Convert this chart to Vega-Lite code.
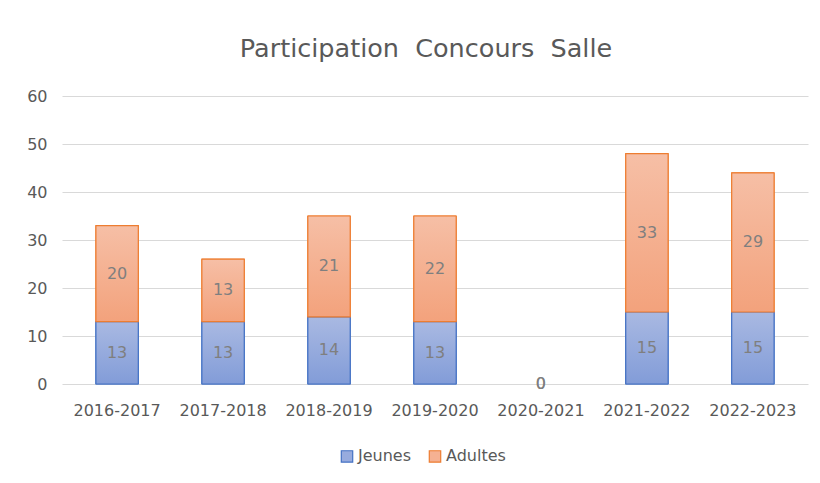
{
  "$schema": "https://vega.github.io/schema/vega-lite/v6.json",
  "autosize": {"type": "none"},
  "width": 746,
  "height": 288,
  "padding": {"left": 62, "top": 96, "right": 12, "bottom": 99},
  "background": "white",
  "title": {
    "text": "Participation\u00a0 Concours\u00a0 Salle",
    "fontSize": 25.5,
    "font": "DejaVu Sans",
    "fontWeight": "normal",
    "color": "#595959",
    "anchor": "middle",
    "dx": -9,
    "offset": 26
  },
  "data": {
    "values": [
      {"year": "2016-2017", "group": "Jeunes", "value": 13},
      {"year": "2016-2017", "group": "Adultes", "value": 20},
      {"year": "2017-2018", "group": "Jeunes", "value": 13},
      {"year": "2017-2018", "group": "Adultes", "value": 13},
      {"year": "2018-2019", "group": "Jeunes", "value": 14},
      {"year": "2018-2019", "group": "Adultes", "value": 21},
      {"year": "2019-2020", "group": "Jeunes", "value": 13},
      {"year": "2019-2020", "group": "Adultes", "value": 22},
      {"year": "2020-2021", "group": "Jeunes", "value": 0},
      {"year": "2020-2021", "group": "Adultes", "value": 0},
      {"year": "2021-2022", "group": "Jeunes", "value": 15},
      {"year": "2021-2022", "group": "Adultes", "value": 33},
      {"year": "2022-2023", "group": "Jeunes", "value": 15},
      {"year": "2022-2023", "group": "Adultes", "value": 29}
    ]
  },
  "transform": [
    {"stack": "value", "groupby": ["year"], "sort": [{"field": "group", "order": "descending"}], "as": ["v0", "v1"]}
  ],
  "encoding": {
    "x": {
      "field": "year", "type": "nominal",
      "sort": ["2016-2017", "2017-2018", "2018-2019", "2019-2020", "2020-2021", "2021-2022", "2022-2023"],
      "scale": {"domain": ["2016-2017", "2017-2018", "2018-2019", "2019-2020", "2020-2021", "2021-2022", "2022-2023"], "paddingInner": 0.6, "paddingOuter": 0.32},
      "axis": {"title": null, "labelAngle": 0, "domain": false, "ticks": false, "labelPadding": 18, "labelFontSize": 16, "labelFont": "DejaVu Sans", "labelColor": "#595959"}
    }
  },
  "layer": [
    {
      "transform": [{"filter": "datum.value > 0"}],
      "mark": {"type": "bar", "strokeWidth": 1},
      "encoding": {
        "y": {
          "field": "v0", "type": "quantitative",
          "scale": {"domain": [0, 60]},
          "axis": {"title": null, "values": [0,10,20,30,40,50,60], "domain": false, "ticks": false, "labelPadding": 15, "labelFontSize": 16, "labelFont": "DejaVu Sans", "labelColor": "#595959", "gridColor": "#D9D9D9", "gridWidth": 1}
        },
        "y2": {"field": "v1"},
        "fill": {
          "field": "group", "type": "nominal",
          "scale": {"domain": ["Jeunes", "Adultes"], "range": ["#97ABDE", "#F5B192"]},
          "legend": {
            "title": null, "orient": "none", "direction": "horizontal",
            "legendX": 277, "legendY": 352,
            "symbolType": "square", "symbolSize": 130, "symbolStrokeWidth": 1.2,
            "labelFontSize": 16, "labelFont": "DejaVu Sans", "labelColor": "#595959", "columnPadding": 14, "labelOffset": 3
          }
        },
        "stroke": {
          "field": "group", "type": "nominal",
          "scale": {"domain": ["Jeunes", "Adultes"], "range": ["#4472C4", "#ED7D31"]}
        }
      }
    },
    {
      "transform": [{"filter": "datum.group === 'Jeunes' && datum.value > 0"}],
      "mark": {"type": "bar", "strokeWidth": 1.2, "stroke": "#4472C4",
        "fill": {"gradient": "linear", "x1": 0, "y1": 0, "x2": 0, "y2": 1, "stops": [{"offset": 0, "color": "#A9B9E2"}, {"offset": 1, "color": "#829CD8"}]}},
      "encoding": {
        "y": {"field": "v0", "type": "quantitative"},
        "y2": {"field": "v1"}
      }
    },
    {
      "transform": [{"filter": "datum.group === 'Adultes' && datum.value > 0"}],
      "mark": {"type": "bar", "strokeWidth": 1.2, "stroke": "#ED7D31",
        "fill": {"gradient": "linear", "x1": 0, "y1": 0, "x2": 0, "y2": 1, "stops": [{"offset": 0, "color": "#F6BFA6"}, {"offset": 1, "color": "#F3A27C"}]}},
      "encoding": {
        "y": {"field": "v0", "type": "quantitative"},
        "y2": {"field": "v1"}
      }
    },
    {
      "transform": [
        {"fold": ["v0", "v1"], "as": ["k", "pos"]},
        {"aggregate": [{"op": "mean", "field": "pos", "as": "mid"}], "groupby": ["year", "group", "value"]}
      ],
      "mark": {"type": "text", "fontSize": 16, "font": "DejaVu Sans", "color": "#7F7F7F", "baseline": "middle"},
      "encoding": {
        "y": {"field": "mid", "type": "quantitative"},
        "text": {"field": "value", "type": "quantitative"}
      }
    }
  ],
  "config": {
    "view": {"stroke": null}
  }
}
